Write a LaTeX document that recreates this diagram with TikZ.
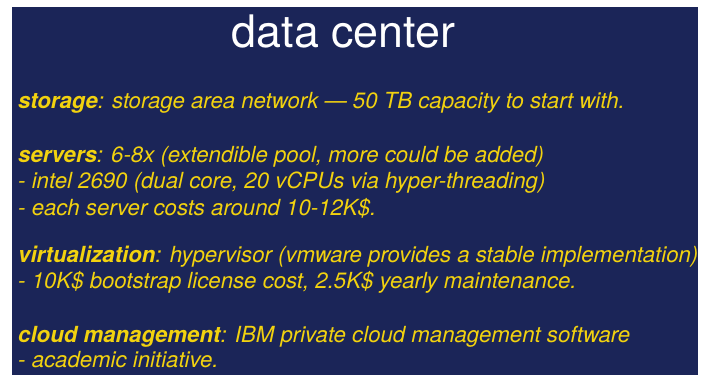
\documentclass[tikz,border=0pt]{standalone}
\usepackage{fontspec}
\setmainfont{TeX Gyre Heros}
\definecolor{navy}{HTML}{1B2558}
\definecolor{ylw}{HTML}{F2D20F}
\begin{document}
\begin{tikzpicture}[x=1pt,y=-1pt,
  txt/.style={anchor=base west,inner sep=0pt,text=ylw,font=\fontsize{22.2}{26}\selectfont\itshape},
  ttl/.style={anchor=base,inner sep=0pt,text=white,font=\fontsize{44.8}{50}\selectfont}]
\useasboundingbox (0,0) rectangle (709,375);
\fill[white] (0,0) rectangle (709,375);
\fill[navy] (12,7) rectangle (698,375);
\node[ttl] (title) at (343.5,47) {data center};
\node[txt] (l1) at (18,108) {\textbf{storage}: storage area network — 50 TB capacity to start with.};
\node[txt] (l2) at (18,162) {\textbf{servers}: 6-8x (extendible pool, more could be added)};
\node[txt] (l3) at (18,188) {- intel 2690 (dual core, 20 vCPUs via hyper-threading)};
\node[txt] (l4) at (18,215) {- each server costs around 10-12K\$.};
\node[txt] (l5) at (18,262) {\textbf{virtualization}: hypervisor (vmware provides a stable implementation)};
\node[txt] (l6) at (18,288) {- 10K\$ bootstrap license cost, 2.5K\$ yearly maintenance.};
\node[txt] (l7) at (18,342) {\textbf{cloud management}: IBM private cloud management software};
\node[txt] (l8) at (18,367) {- academic initiative.};
\end{tikzpicture}
\end{document}
